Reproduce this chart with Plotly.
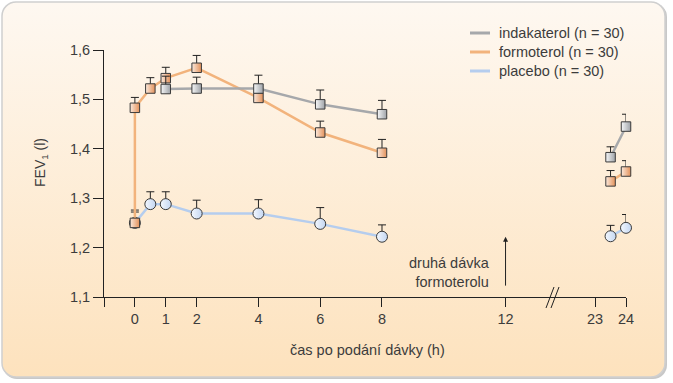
import base64
import plotly.graph_objects as go

# ---------------- data ----------------
hours_formoterol = [0, 0, 0.5, 1, 2, 4, 6, 8, None, 23.5, 24]
formoterol = [1.25, 1.483, 1.522, 1.543, 1.564, 1.503, 1.433, 1.392, None, 1.334, 1.354]
formoterol_err = [0.022, 0.021, 0.022, 0.022, 0.025, 0.018, 0.023, 0.027, 0, 0.022, 0.022]

hours_indacaterol = [1, 2, 4, 6, 8, None, 23.5, 24]
indacaterol = [1.521, 1.522, 1.522, 1.49, 1.47, None, 1.383, 1.445]
indacaterol_err = [0.026, 0.023, 0.027, 0.029, 0.028, 0, 0.021, 0.025]

hours_placebo = [0, 0.5, 1, 2, 4, 6, 8, None, 23.5, 24]
placebo = [1.25, 1.288, 1.288, 1.269, 1.269, 1.248, 1.222, None, 1.223, 1.240]
placebo_err = [0.026, 0.025, 0.025, 0.027, 0.028, 0.033, 0.024, 0, 0.022, 0.027]

x_tick_hours = [0, 1, 2, 4, 6, 8, 12, 23, 24]
x_tick_labels = ["0", "1", "2", "4", "6", "8", "12", "23", "24"]
y_tick_vals = [1.1, 1.2, 1.3, 1.4, 1.5, 1.6]
y_tick_labels = ["1,1", "1,2", "1,3", "1,4", "1,5", "1,6"]

legend_names = ["indakaterol (n = 30)", "formoterol (n = 30)", "placebo (n = 30)"]
legend_colors = ["#a6a8ab", "#f2b37c", "#b5cdee"]

# broken time axis: 12 h ... 23 h compressed
BREAK_FROM = 23
BREAK_TO = 14.9


def pos(h):
    if h is None:
        return None
    return h if h <= 12 else h - BREAK_FROM + BREAK_TO


FONT = "Liberation Sans"
TXT = "#3c3c3c"

fig = go.Figure()


def add_series(hours, vals, errs, line_color, symbol, size, fill, grad):
    fig.add_trace(go.Scatter(
        x=[pos(h) for h in hours], y=vals,
        mode="lines+markers",
        line=dict(color=line_color, width=2.5),
        marker=dict(symbol=symbol, size=size, color=fill,
                    gradient=dict(type="horizontal", color=grad),
                    line=dict(color="#3a3a3a", width=1)),
        error_y=dict(type="data", symmetric=False, array=errs,
                     arrayminus=[0] * len(errs), color="#222222",
                     thickness=1, width=4),
        cliponaxis=False, showlegend=False, hoverinfo="skip"))


add_series(hours_placebo, placebo, placebo_err, legend_colors[2], "circle", 11,
           "#f4f8fe", "#c3d6f2")
add_series(hours_formoterol, formoterol, formoterol_err, legend_colors[1], "square", 9.5,
           "#fbe9dc", "#e3915a")
add_series(hours_indacaterol, indacaterol, indacaterol_err, legend_colors[0], "square", 9.5,
           "#f6f7f8", "#9fa3a8")

# ---------------- background panel ----------------
W, H = 673, 383
L, R, T, B = 104, 47, 50, 86
pw, ph = W - L - R, H - T - B
svg = ('<svg xmlns="http://www.w3.org/2000/svg" width="673" height="383">'
       '<defs><linearGradient id="g" x1="0" y1="0" x2="0" y2="1">'
       '<stop offset="0" stop-color="#fef8f1"/><stop offset="1" stop-color="#fde2bd"/>'
       '</linearGradient></defs>'
       '<rect x="3" y="3" width="664" height="376" rx="14" fill="#c8c8c8"/>'
       '<rect x="2" y="2" width="663" height="375" rx="14" fill="url(#g)" '
       'stroke="#cfcfcf" stroke-width="1.5"/></svg>')
src = "data:image/svg+xml;base64," + base64.b64encode(svg.encode()).decode()


def px_x(p):
    return (p - L) / pw


def px_y(p):
    return (H - B - p) / ph


fig.add_layout_image(dict(source=src, xref="paper", yref="paper",
                          x=px_x(0), y=px_y(0), sizex=W / pw, sizey=H / ph,
                          xanchor="left", yanchor="top", sizing="stretch",
                          layer="below"))

# legend (lines only)
shapes = []
annotations = []
for i, (name, col) in enumerate(zip(legend_names, legend_colors)):
    yy = px_y(33 + i * 19)
    shapes.append(dict(type="line", xref="paper", yref="paper",
                       x0=px_x(470), x1=px_x(490), y0=yy, y1=yy,
                       line=dict(color=col, width=3)))
    annotations.append(dict(xref="paper", yref="paper", x=px_x(497), y=yy,
                            text=name, showarrow=False, xanchor="left",
                            yanchor="middle", font=dict(family=FONT, size=14.5, color=TXT)))

# axis break marks
for dx in (0, 5):
    shapes.append(dict(type="line", xref="paper", yref="paper",
                       x0=px_x(546 + dx), x1=px_x(554 + dx),
                       y0=px_y(308), y1=px_y(287),
                       line=dict(color="#222222", width=1)))

# arrow for second formoterol dose
annotations.append(dict(x=12, y=1.222, ax=12, ay=1.12, xref="x", yref="y",
                        axref="x", ayref="y", text="", showarrow=True,
                        arrowhead=2, arrowsize=1, arrowwidth=1, arrowcolor="#222222"))
annotations.append(dict(x=11.55, y=1.149, xref="x", yref="y",
                        text="druhá dávka<br>formoterolu", showarrow=False,
                        xanchor="right", yanchor="middle", align="right",
                        font=dict(family=FONT, size=14.5, color=TXT)))

# axis titles
annotations.append(dict(xref="paper", yref="paper", x=px_x(367), y=px_y(350),
                        text="čas po podání dávky (h)", showarrow=False,
                        xanchor="center", yanchor="middle",
                        font=dict(family=FONT, size=14.5, color=TXT)))
annotations.append(dict(xref="paper", yref="paper", x=px_x(41), y=px_y(163),
                        text="FEV<sub>1</sub> (l)", showarrow=False, textangle=-90,
                        xanchor="center", yanchor="middle",
                        font=dict(family=FONT, size=14, color=TXT)))

fig.update_layout(
    width=W, height=H,
    margin=dict(l=L, r=R, t=T, b=B, pad=0),
    paper_bgcolor="white", plot_bgcolor="rgba(0,0,0,0)",
    shapes=shapes, annotations=annotations,
    font=dict(family=FONT, size=14, color=TXT),
    xaxis=dict(range=[-1, pos(24)], showgrid=False, zeroline=False,
               showline=True, linecolor="#222222", linewidth=1,
               ticks="outside", ticklen=9, tickwidth=1, tickcolor="#222222",
               tickvals=[-1] + [pos(h) for h in x_tick_hours],
               ticktext=[""] + x_tick_labels,
               tickfont=dict(family=FONT, size=14.5, color=TXT)),
    yaxis=dict(range=[1.1, 1.6], showgrid=False, zeroline=False,
               showline=True, linecolor="#222222", linewidth=1,
               ticks="outside", ticklen=10, tickwidth=1, tickcolor="#222222",
               tickvals=y_tick_vals, ticktext=y_tick_labels,
               tickfont=dict(family=FONT, size=14.5, color=TXT)),
)

fig.write_html("out.html", config={"displayModeBar": False},
               post_script="document.body.style.margin='0';"
                           "document.body.style.overflow='hidden';")
